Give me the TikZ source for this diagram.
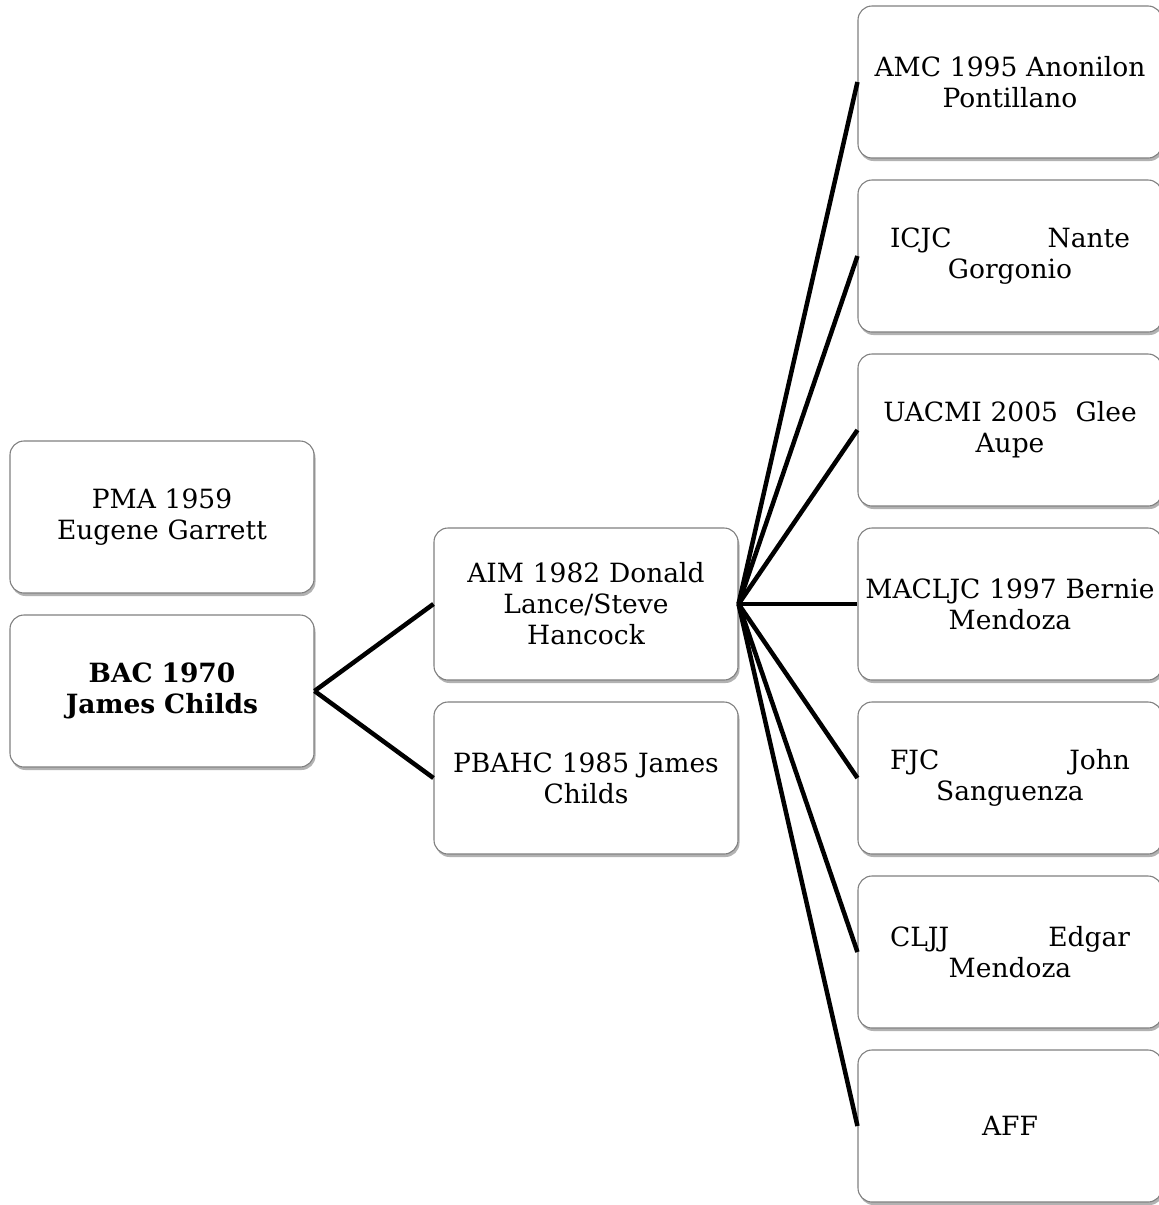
\documentclass[tikz,border=0pt]{standalone}
\usepackage{fontspec}
\setmainfont{DejaVu Serif}
\usetikzlibrary{shadows}
\tikzset{
  card/.style={draw=black!50, line width=1.1pt, fill=white, rounded corners=14pt,
    minimum width=304pt, minimum height=152pt, inner sep=0pt,
    text width=296pt, align=center,
    font=\fontsize{26.5}{31}\selectfont,
    drop shadow={shadow xshift=1.5pt, shadow yshift=-3pt, opacity=0.5, fill=black!60}},
  link/.style={line width=4.5pt, black}
}
\begin{document}
\begin{tikzpicture}[x=1pt,y=-1pt]
\useasboundingbox (0,0) rectangle (1159,1205);
\node[card] (pma) at (162,517) {PMA 1959\\Eugene Garrett};
\node[card] (bac) at (162,691) {\bfseries BAC 1970\\James Childs};
\node[card] (aim) at (586,604) {AIM 1982 Donald\\Lance/Steve\\Hancock};
\node[card] (pbahc) at (586,778) {PBAHC 1985 James\\Childs};
\node[card] (amc) at (1010,82) {AMC 1995 Anonilon\\Pontillano};
\node[card] (icjc) at (1010,256) {\makebox[240pt]{ICJC\hfill Nante}\\Gorgonio};
\node[card] (uacmi) at (1010,430) {UACMI 2005~ Glee\\Aupe};
\node[card] (maclj) at (1010,604) {MACLJC 1997 Bernie\\Mendoza};
\node[card] (fjc) at (1010,778) {\makebox[240pt]{FJC\hfill John}\\Sanguenza};
\node[card] (cljj) at (1010,952) {\makebox[240pt]{CLJJ\hfill Edgar}\\Mendoza};
\node[card] (aff) at (1010,1126) {AFF};
\draw[link] (bac.east) -- (aim.west);
\draw[link] (bac.east) -- (pbahc.west);
\foreach \n in {amc,icjc,uacmi,maclj,fjc,cljj,aff}
  \draw[link] (aim.east) -- (\n.west);
\end{tikzpicture}
\end{document}
